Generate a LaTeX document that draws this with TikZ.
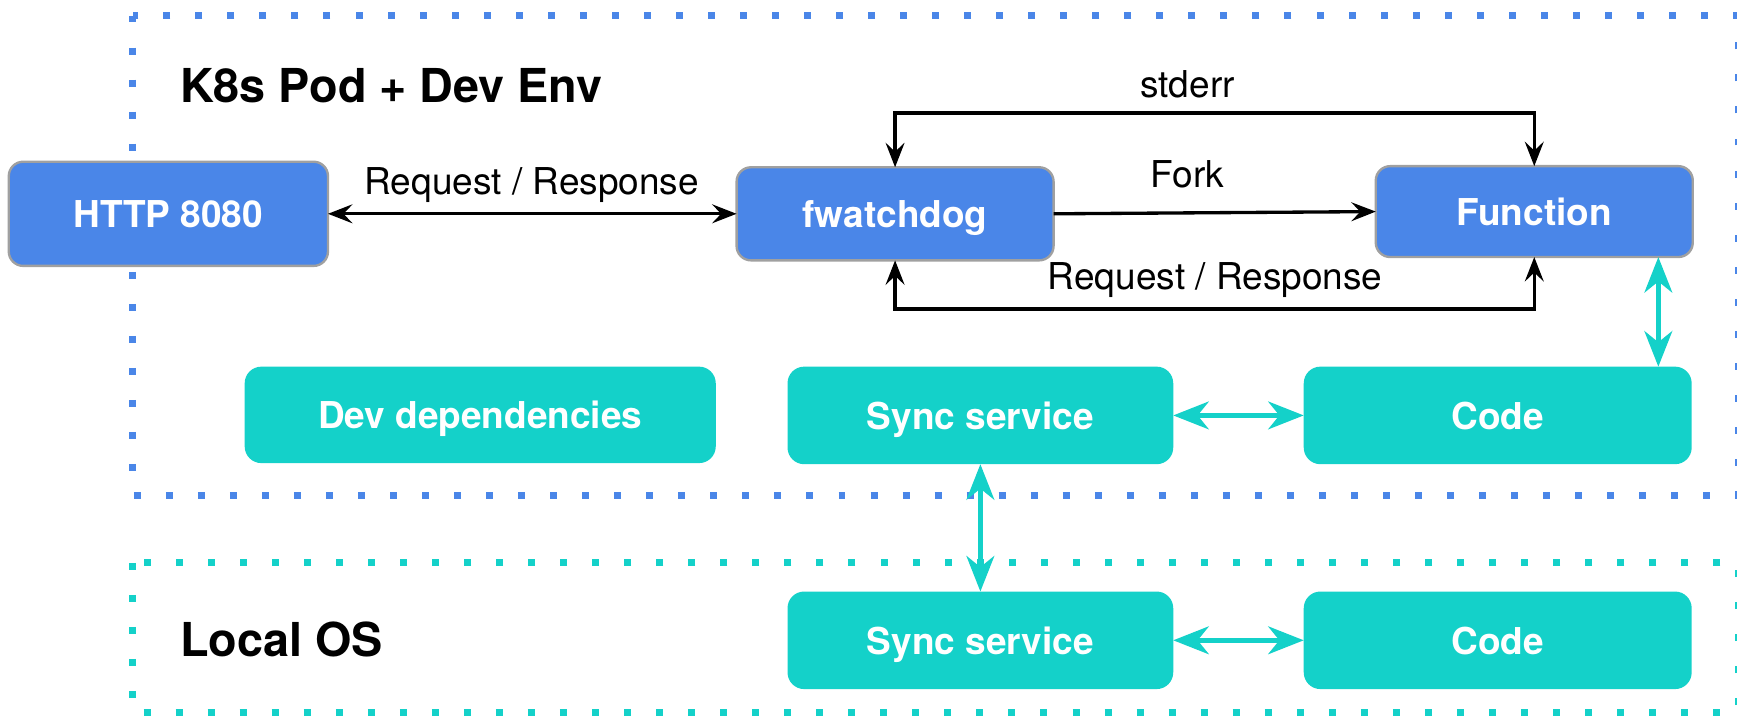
\documentclass[tikz,border=0pt]{standalone}
\usepackage{fontspec}
\setmainfont{TeX Gyre Heros}
\usetikzlibrary{arrows.meta}
\definecolor{bluebox}{HTML}{4A86E8}
\definecolor{tealbox}{HTML}{14D1C9}
\definecolor{boxedge}{HTML}{A0A0A0}
\tikzset{
  bluenode/.style={fill=bluebox, draw=boxedge, line width=0.6pt, rounded corners=0.13cm,
    inner sep=0pt, outer sep=0pt, text=white, text height=0.72em, text depth=0pt,
    font=\fontsize{9.5}{11}\selectfont\bfseries},
  tealnode/.style={fill=tealbox, draw=none, rounded corners=0.15cm,
    inner sep=0pt, outer sep=0pt, text=white, text height=0.72em, text depth=0pt,
    font=\fontsize{9.5}{11}\selectfont\bfseries},
  lbl/.style={inner sep=0pt, text height=0.72em, text depth=0pt, font=\fontsize{9.5}{11}\selectfont},
  title/.style={inner sep=0pt, anchor=west, text height=0.72em, text depth=0pt,
    font=\fontsize{12}{14}\selectfont\bfseries},
  blk/.style={draw=black, line width=0.03cm,
    arrows={Stealth[length=0.22cm,width=0.17cm,inset=0.08cm]-Stealth[length=0.22cm,width=0.17cm,inset=0.08cm]}},
  blkone/.style={draw=black, line width=0.03cm,
    arrows={-Stealth[length=0.22cm,width=0.17cm,inset=0.08cm]}},
  tl/.style={draw=tealbox, line width=0.045cm,
    arrows={Stealth[length=0.32cm,width=0.25cm,inset=0.1cm]-Stealth[length=0.32cm,width=0.25cm,inset=0.1cm]}},
  dotbox/.style={line width=0.063cm, dash pattern=on 0.063cm off 0.226cm},
}
\begin{document}
\begin{tikzpicture}[x=0.01cm, y=-0.01cm]
\useasboundingbox (0,0) rectangle (1568,648);
% dotted containers
\draw[dotbox, draw=bluebox] (120,14) rectangle (1569,447);
\draw[dotbox, draw=tealbox] (120,508) rectangle (1569,643);
% titles
\node[title] (t1) at (162,80) {K8s Pod + Dev Env};
\node[title] (t2) at (162,580) {Local OS};
% nodes
\node[bluenode, minimum width=2.88cm, minimum height=0.94cm] (http) at (152,193) {HTTP 8080};
\node[bluenode, minimum width=2.86cm, minimum height=0.84cm] (fwd) at (808,193) {fwatchdog};
\node[bluenode, minimum width=2.86cm, minimum height=0.82cm] (func) at (1385,191) {Function};
\node[tealnode, minimum width=4.25cm, minimum height=0.87cm] (dev) at (433.5,374.5) {Dev dependencies};
\node[tealnode, minimum width=3.48cm, minimum height=0.88cm] (sync1) at (885,375) {Sync service};
\node[tealnode, minimum width=3.50cm, minimum height=0.88cm] (code1) at (1352,375) {Code};
\node[tealnode, minimum width=3.48cm, minimum height=0.88cm] (sync2) at (885,578) {Sync service};
\node[tealnode, minimum width=3.50cm, minimum height=0.88cm] (code2) at (1352,578) {Code};
% helper coordinates
\coordinate (sTop) at (1100,102);
\coordinate (rBot) at (1100,279);
\coordinate (fcx) at (1497,0);
% black connectors
\draw[blk] (http.east) -- (fwd.west);
\draw[blkone] (fwd.east) -- (func.west);
\draw[blk] (fwd.north) |- (sTop) -| (func.north);
\draw[blk] (fwd.south) |- (rBot) -| (func.south);
% labels
\node[lbl] (l1) at (480,163) {Request / Response};
\node[lbl] (l2) at (1072,157) {Fork};
\node[lbl] (l3) at (1072,75) {stderr};
\node[lbl] (l4) at (1097,249) {Request / Response};
% teal connectors
\draw[tl] (func.south -| fcx) -- (code1.north -| fcx);
\draw[tl] (sync1.east) -- (code1.west);
\draw[tl] (sync1.south) -- (sync2.north);
\draw[tl] (sync2.east) -- (code2.west);
\end{tikzpicture}
\end{document}
